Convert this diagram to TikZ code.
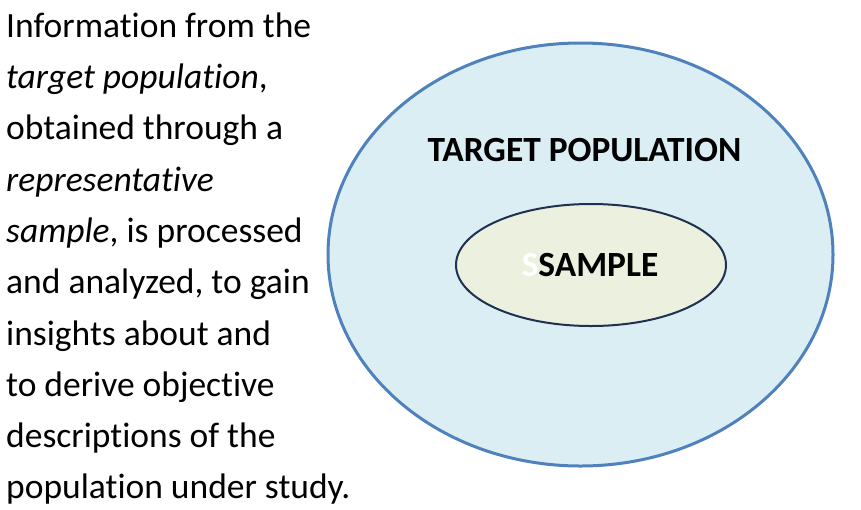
\documentclass[tikz,border=0pt]{standalone}
\usepackage{fontspec}
\setmainfont[Ligatures={NoCommon}]{Carlito}
\definecolor{popfill}{HTML}{DBEEF4}
\definecolor{popline}{HTML}{4F81BD}
\definecolor{smpfill}{HTML}{EBF1DE}
\definecolor{smpline}{HTML}{1F3150}
\begin{document}
\begin{tikzpicture}[x=1pt,y=-1pt,
  txt/.style={anchor=base west,inner sep=0pt,font=\fontsize{35.5}{42}\selectfont},
  lbl/.style={anchor=base,inner sep=0pt,font=\fontsize{35.4}{42}\selectfont\bfseries}]
\useasboundingbox (0,0) rectangle (861,509);
\coordinate (pop) at (580.5,254.5);
\draw[line width=3pt,draw=popline,fill=popfill] (pop) ellipse [x radius=252.5pt,y radius=211.5pt];
\coordinate (smp) at (591,265);
\draw[line width=2pt,draw=smpline,fill=smpfill] (smp) ellipse [x radius=135pt,y radius=61pt];
\node[lbl] (poplbl) at (584.5,161) {TARGET POPULATION};
\node[lbl] (smplbl) at (590,276) {\textcolor{white}{S}SAMPLE};
\node[txt] (l1) at (6,37) {Information from the};
\node[txt] (l2) at (6,88) {\itshape target population\upshape,};
\node[txt] (l3) at (6,139.5) {obtained through a};
\node[txt] (l4) at (6,191) {\itshape representative};
\node[txt] (l5) at (6,242) {\itshape sample\upshape, is processed};
\node[txt] (l6) at (6,293) {and analyzed, to gain};
\node[txt] (l7) at (6,345) {insights about and};
\node[txt] (l8) at (6,396) {to derive objective};
\node[txt] (l9) at (6,447) {descriptions of the};
\node[txt] (l10) at (6,498.5) {population under study.};
\end{tikzpicture}
\end{document}
